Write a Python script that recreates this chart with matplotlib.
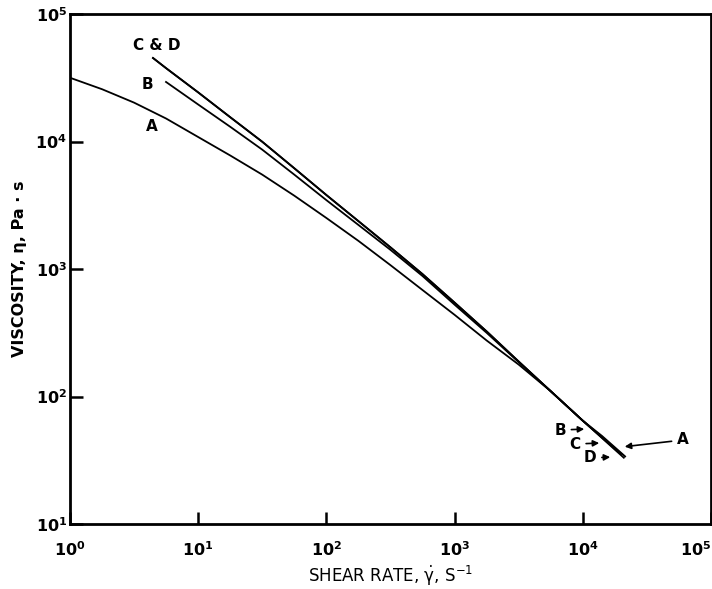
import numpy as np
import matplotlib
matplotlib.use('Agg')
import matplotlib.pyplot as plt

plt.rcParams['font.family'] = 'DejaVu Sans'
plt.rcParams['mathtext.default'] = 'regular'

# Curve A
rate_a = [1, 1.78, 3.16, 5.62, 10, 17.8, 31.6, 56.2, 100, 178, 316, 562,
          1000, 1778, 3162, 5623, 10000, 14125, 21380]
visc_a = [31623, 25700, 20180, 15140, 10840, 7762, 5495, 3758, 2512, 1660, 1072, 684,
          437, 275, 178, 110, 64.6, 49, 33.9]

# Curve B
rate_b = [5.61, 10, 17.8, 31.6, 56.2, 100, 178, 316, 562,
          1000, 1778, 3162, 5623, 10000, 18620]
visc_b = [29310, 19500, 13030, 8630, 5495, 3467, 2213, 1413, 881,
          525, 316, 186, 110, 64.6, 37.2]

# Curve C
rate_c = [4.44, 5.62, 10, 17.8, 31.6, 56.2, 100, 178, 316, 562,
          1000, 1778, 3162, 5623, 10000, 19950]
visc_c = [45190, 37580, 24270, 15490, 9954, 6166, 3802, 2371, 1479, 912,
          545, 324, 188, 110, 64.6, 35.5]

# Curve D
rate_d = [4.44, 5.62, 10, 17.8, 31.6, 56.2, 100, 178, 316, 562,
          1000, 1778, 3162, 5623, 10000, 20890]
visc_d = [45190, 37580, 24270, 15490, 9954, 6166, 3802, 2371, 1479, 912,
          545, 324, 188, 110, 64.6, 33.1]

x_ticks = [1e0, 1e1, 1e2, 1e3, 1e4, 1e5]
x_ticklabels = ['$10^0$', '$10^1$', '$10^2$', '$10^3$', '$10^4$', '$10^5$']
y_ticks = [1e1, 1e2, 1e3, 1e4, 1e5]
y_ticklabels = ['$10^1$', '$10^2$', '$10^3$', '$10^4$', '$10^5$']

fig = plt.figure(figsize=(7.12, 5.89), dpi=100)
ax = fig.add_axes([70 / 712, 1 - 524 / 589, 641 / 712, 510 / 589])

for rate, visc in [(rate_a, visc_a), (rate_b, visc_b), (rate_c, visc_c), (rate_d, visc_d)]:
    ax.plot(rate, visc, color='black', lw=1.3, solid_joinstyle='round')

ax.set_xscale('log')
ax.set_yscale('log')
ax.set_xlim(1, 1e5)
ax.set_ylim(10, 1e5)

ax.set_xticks(x_ticks)
ax.set_xticklabels(x_ticklabels, fontweight='bold', fontsize=11.5)
ax.get_xticklabels()[-1].set_ha('right')
ax.set_yticks(y_ticks)
ax.set_yticklabels(y_ticklabels, fontweight='bold', fontsize=11.5)
ax.minorticks_off()
ax.tick_params(axis='both', which='major', direction='in', length=9, width=1.8)
ax.tick_params(axis='x', pad=12)
ax.tick_params(axis='y', pad=2)

for pos in ['top', 'bottom', 'left', 'right']:
    ax.spines[pos].set_linewidth(2)

ax.set_xlabel(r'SHEAR RATE, $\dot{\gamma}$, S$^{-1}$', fontsize=12, labelpad=3)
ax.set_ylabel('VISCOSITY, η, Pa · s', fontsize=11.5, fontweight='bold', labelpad=6)

lab = {'fontsize': 11, 'fontweight': 'bold', 'ha': 'center', 'va': 'center'}
ax.text(4.77, 57100, 'C & D', **lab)
ax.text(4.0, 28200, 'B', **lab)
ax.text(4.36, 13000, 'A', **lab)

arrow = dict(arrowstyle='-|>', color='black', lw=1.2, mutation_scale=9)
ax.annotate('B', xy=(10790, 55.6), xytext=(6640, 54.6), arrowprops=arrow, **lab)
ax.annotate('C', xy=(14120, 43.2), xytext=(8690, 42.4), arrowprops=arrow, **lab)
ax.annotate('D', xy=(17200, 33.5), xytext=(11380, 33), arrowprops=arrow, **lab)
ax.annotate('A', xy=(20200, 40.2), xytext=(60500, 45.6), arrowprops=arrow, **lab)

plt.savefig('out.png', dpi=100)
